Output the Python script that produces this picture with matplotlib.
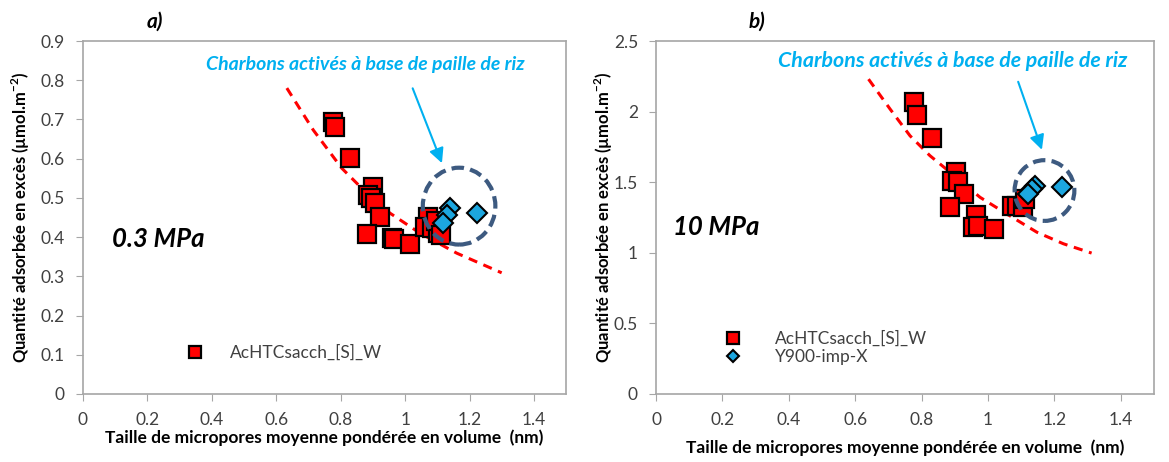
import numpy as np
import matplotlib
matplotlib.use("Agg")
import matplotlib.pyplot as plt
import matplotlib.patches as patches

plt.rcParams['font.family'] = ['Lato', 'DejaVu Sans']

# panel a) 0.3 MPa
a_red_x = [0.775, 0.782, 0.829, 0.899, 0.886, 0.894, 0.906, 0.922, 0.883, 0.958, 0.966,
           1.015, 1.070, 1.061, 1.082, 1.103, 1.095, 1.110]
a_red_y = [0.694, 0.682, 0.603, 0.529, 0.508, 0.499, 0.486, 0.452, 0.407, 0.399, 0.395,
           0.382, 0.452, 0.427, 0.423, 0.410, 0.440, 0.405]
a_blue_x = [1.140, 1.129, 1.118, 1.222]
a_blue_y = [0.474, 0.457, 0.437, 0.461]
a_trend_x = [0.633, 0.715, 0.803, 0.860, 0.953, 1.046, 1.160, 1.299]
a_trend_y = [0.780, 0.673, 0.576, 0.529, 0.461, 0.410, 0.359, 0.309]

# panel b) 10 MPa
b_red_x = [0.778, 0.787, 0.830, 0.904, 0.891, 0.911, 0.929, 0.884, 0.964, 0.956, 0.971,
           1.019, 1.071, 1.086, 1.106, 1.111]
b_red_y = [2.071, 1.977, 1.813, 1.570, 1.511, 1.499, 1.417, 1.323, 1.269, 1.181, 1.189,
           1.170, 1.335, 1.335, 1.323, 1.382]
b_blue_x = [1.142, 1.132, 1.121, 1.222]
b_blue_y = [1.476, 1.453, 1.417, 1.464]
b_trend_x = [0.640, 0.705, 0.765, 0.825, 0.886, 0.976, 1.056, 1.147, 1.227, 1.312]
b_trend_y = [2.230, 2.018, 1.829, 1.688, 1.570, 1.393, 1.276, 1.146, 1.064, 0.998]

x_ticks = [0, 0.2, 0.4, 0.6, 0.8, 1, 1.2, 1.4]
x_tick_labels = ['0', '0.2', '0.4', '0.6', '0.8', '1', '1.2', '1.4']
a_y_ticks = [0, 0.1, 0.2, 0.3, 0.4, 0.5, 0.6, 0.7, 0.8, 0.9]
a_y_labels = ['0', '0.1', '0.2', '0.3', '0.4', '0.5', '0.6', '0.7', '0.8', '0.9']
b_y_ticks = [0, 0.5, 1, 1.5, 2, 2.5]
b_y_labels = ['0', '0.5', '1', '1.5', '2', '2.5']

RED = '#FF0000'
BLUE = '#1CA6DF'
CYAN_TXT = '#00B0F0'
CIRCLE = '#3D5A80'
GRAY = '#A6A6A6'

fig = plt.figure(figsize=(11.69, 4.62), dpi=100)
ax1 = fig.add_axes([0.0707, 0.1472, 0.4139, 0.764])
ax2 = fig.add_axes([0.5612, 0.1472, 0.426, 0.764])

xlabel = 'Taille de micropores moyenne pondérée en volume  (nm)'
ylabel = 'Quantité adsorbée en excès (µmol.m$^{\\mathregular{-2}}$)'


def style_axes(ax, yticks, ylabels, ymax, xpad, ypad):
    ax.set_xlim(0, 1.5)
    ax.set_ylim(0, ymax)
    ax.set_xticks(x_ticks)
    ax.set_xticklabels(x_tick_labels)
    ax.set_yticks(yticks)
    ax.set_yticklabels(ylabels)
    for s in ax.spines.values():
        s.set_color(GRAY)
        s.set_linewidth(1.2)
    ax.tick_params(axis='both', direction='out', length=5, color=GRAY,
                   labelsize=12.5, labelcolor='#404040', pad=8)
    ax.set_xlabel(xlabel, fontsize=12.5, fontweight='bold', labelpad=xpad)
    ax.set_ylabel(ylabel, fontsize=12, fontweight='bold', labelpad=ypad)


# ---- panel a
ax = ax1
style_axes(ax, a_y_ticks, a_y_labels, 0.9, 1, 6)
ax.plot(a_trend_x, a_trend_y, '--', color=RED, lw=2.2, dashes=(3, 2.2), zorder=2)
ax.plot(a_red_x, a_red_y, 's', ms=13, mfc=RED, mec='black', mew=1.6, ls='none', zorder=3,
        label='AcHTCsacch_[S]_W')
ax.plot(a_blue_x, a_blue_y, 'D', ms=10, mfc=BLUE, mec='black', mew=1.5, ls='none', zorder=4)
ax.add_patch(patches.Ellipse((1.167, 0.479), 0.225, 0.196, fill=False, ec=CIRCLE, lw=3,
                             ls=(0, (3, 1.5)), zorder=5))
ax.annotate('', xy=(1.117, 0.582), xytext=(1.02, 0.786),
            arrowprops=dict(arrowstyle='-|>', color=CYAN_TXT, lw=1.5, mutation_scale=22))
ax.text(0.878, 0.84, 'Charbons activés à base de paille de riz', color=CYAN_TXT,
        fontsize=14, fontweight='bold', style='italic', ha='center', va='center')
ax.text(0.09, 0.395, '0.3 MPa', fontsize=18.5, fontweight='bold', style='italic',
        ha='left', va='center')
fig.text(155 / 1169, 1 - 22 / 462, 'a)', fontsize=15, fontweight='bold', style='italic',
         ha='center', va='center')
ax.legend(loc='lower left', bbox_to_anchor=(0.165, 0.05), frameon=False, fontsize=12.5,
          markerscale=0.65, handletextpad=1.0, labelcolor='#404040')

# ---- panel b
ax = ax2
style_axes(ax, b_y_ticks, b_y_labels, 2.5, 8, -1)
ax.plot(b_trend_x, b_trend_y, '--', color=RED, lw=2.2, dashes=(3, 2.2), zorder=2)
ax.plot(b_red_x, b_red_y, 's', ms=13, mfc=RED, mec='black', mew=1.6, ls='none', zorder=3,
        label='AcHTCsacch_[S]_W')
ax.plot(b_blue_x, b_blue_y, 'D', ms=10, mfc=BLUE, mec='black', mew=1.5, ls='none', zorder=4,
        label='Y900-imp-X')
ax.add_patch(patches.Ellipse((1.170, 1.441), 0.18, 0.43, fill=False, ec=CIRCLE, lw=3,
                             ls=(0, (3, 1.5)), zorder=5))
ax.annotate('', xy=(1.165, 1.711), xytext=(1.088, 2.23),
            arrowprops=dict(arrowstyle='-|>', color=CYAN_TXT, lw=1.5, mutation_scale=22))
ax.text(0.895, 2.36, 'Charbons activés à base de paille de riz', color=CYAN_TXT,
        fontsize=15.4, fontweight='bold', style='italic', ha='center', va='center')
ax.text(0.05, 1.18, '10 MPa', fontsize=18.5, fontweight='bold', style='italic',
        ha='left', va='center')
fig.text(757 / 1169, 1 - 22 / 462, 'b)', fontsize=15, fontweight='bold', style='italic',
         ha='center', va='center')
ax.legend(loc='lower left', bbox_to_anchor=(0.089, 0.038), frameon=False, fontsize=12.5,
          markerscale=0.65, handletextpad=1.4, labelspacing=0.1, labelcolor='#404040')

fig.savefig('out.png', dpi=100)
